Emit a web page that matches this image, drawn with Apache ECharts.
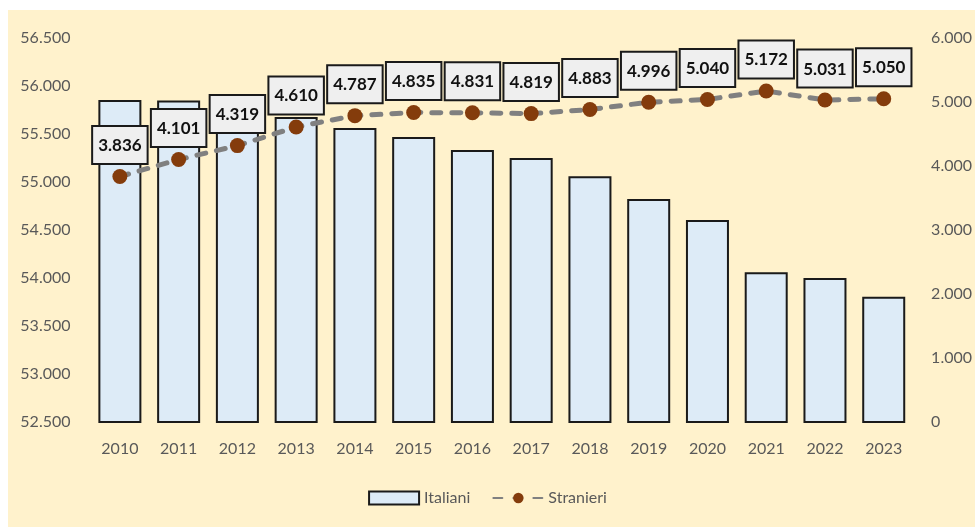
<!DOCTYPE html>
<html>
<head>
<meta charset="utf-8">
<script src="https://cdn.jsdelivr.net/npm/echarts@6/dist/echarts.min.js"></script>
<style>
html,body{margin:0;padding:0;background:#ffffff;}
#c{width:975px;height:527px;}
</style>
</head>
<body>
<div id="c"></div>
<script>
var years = ['2010','2011','2012','2013','2014','2015','2016','2017','2018','2019','2020','2021','2022','2023'];
var italiani = [55855, 55850, 55760, 55677, 55562, 55469, 55333, 55250, 55059, 54823, 54604, 54059, 54000, 53805];
var stranieri = [3836, 4101, 4319, 4610, 4787, 4835, 4831, 4819, 4883, 4996, 5040, 5172, 5031, 5050];
var leftTicks = {min: 52500, max: 56500, interval: 500};
var rightTicks = {min: 0, max: 6000, interval: 1000};

function fmt(v) {
  var s = String(Math.round(v));
  return s.replace(/\B(?=(\d{3})+(?!\d))/g, '.');
}

var font = 'Lato';
var chart = echarts.init(document.getElementById('c'));
chart.setOption({
  backgroundColor: '#ffffff',
  animation: false,
  graphic: [{
    type: 'rect', z: -10, silent: true,
    shape: {x: 8, y: 10, width: 975, height: 527},
    style: {fill: '#FFF2CC'}
  }],
  textStyle: {fontFamily: font},
  grid: {left: 90.5, right: 59.5, top: 38, bottom: 105},
  legend: {
    bottom: 16, left: 'center',
    itemWidth: 50, itemHeight: 13, itemGap: 22,
    textStyle: {fontFamily: font, fontSize: 16, color: '#595959'},
    data: [
      {name: 'Italiani', icon: 'rect'},
      {name: 'Stranieri'}
    ]
  },
  xAxis: {
    type: 'category', data: years,
    axisLine: {show: false}, axisTick: {show: false},
    axisLabel: {color: '#595959', fontSize: 16, margin: 19, fontFamily: font}
  },
  yAxis: [{
    type: 'value', min: leftTicks.min, max: leftTicks.max, interval: leftTicks.interval,
    splitLine: {show: false}, axisLine: {show: false}, axisTick: {show: false},
    axisLabel: {color: '#595959', fontSize: 16, margin: 20, fontFamily: font, formatter: fmt}
  }, {
    type: 'value', min: rightTicks.min, max: rightTicks.max, interval: rightTicks.interval,
    splitLine: {show: false}, axisLine: {show: false}, axisTick: {show: false},
    axisLabel: {color: '#595959', fontSize: 16, margin: 18, fontFamily: font, formatter: fmt}
  }],
  series: [{
    name: 'Italiani', type: 'bar', yAxisIndex: 0, z: 2,
    data: italiani, barWidth: 43,
    itemStyle: {color: '#DDEBF7', borderColor: '#1a1a1a', borderWidth: 2}
  }, {
    name: 'Stranieri', type: 'line', yAxisIndex: 1, z: 5,
    data: stranieri,
    symbol: 'circle', symbolSize: 15,
    itemStyle: {color: '#843C0C'},
    lineStyle: {color: '#808080', width: 5, type: [9, 11], cap: 'round'},
    label: {
      show: true, position: 'top', distance: 6,
      formatter: function (p) { return fmt(p.value); },
      fontFamily: font, fontWeight: 'bold', fontSize: 17, color: '#111111',
      backgroundColor: '#EFEFEF', borderColor: '#1a1a1a', borderWidth: 2,
      padding: [10, 5, 9, 5]
    }
  }]
});
</script>
</body>
</html>
